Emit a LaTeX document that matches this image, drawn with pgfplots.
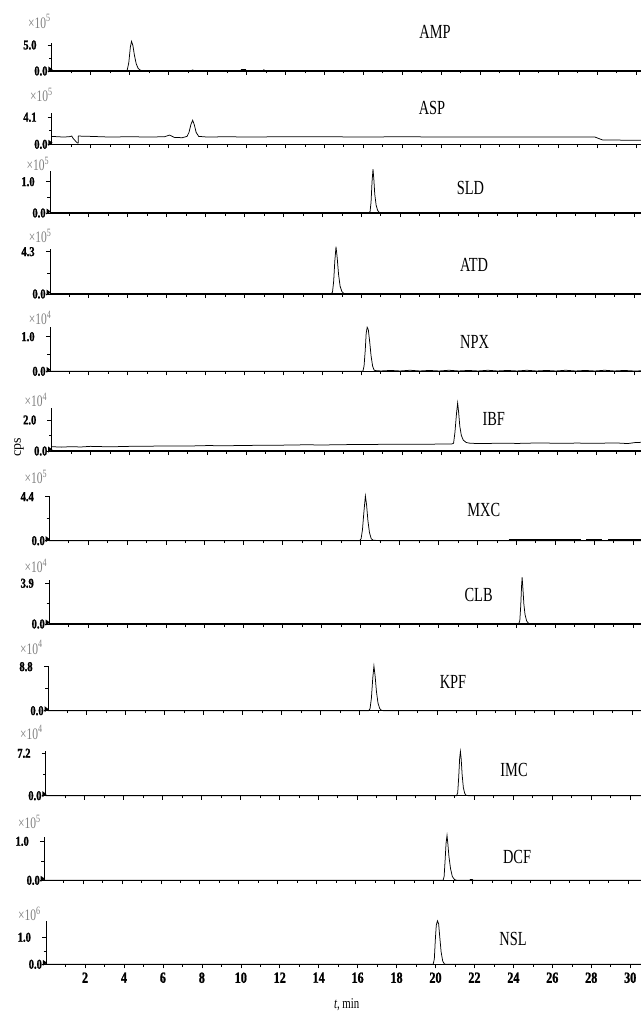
\documentclass[border=0pt]{standalone}
\usepackage{fontspec}
\setmainfont{Liberation Serif}[FakeStretch=0.72]
\newfontfamily\plainserif{Liberation Serif}
\newfontfamily\tickfont{Liberation Serif}[FakeStretch=0.78, FakeBold=1.2]
\usepackage{pgfplots}
\pgfplotsset{compat=1.18}
\tikzset{
 ylab/.style={font=\tickfont\bfseries\fontsize{13.5}{13.5}\selectfont, inner sep=0pt},
 mult/.style={font=\fontsize{16}{16}\selectfont, text=black!50, inner sep=0pt, anchor=west},
 pname/.style={font=\fontsize{20}{20}\selectfont, inner sep=0pt},
}
\pgfplotsset{
 panel/.style={
  anchor=south west, x=19.47pt, xmin=0, xmax=31, ymin=0, clip=false,
  axis lines=left, axis line style={-, black},
  x axis line style={line width=1.5pt}, y axis line style={line width=0.6pt},
  xtick={2,4,...,30}, minor xtick={1,3,...,31}, xticklabels={}, yticklabels={},
  tick align=outside, major tick length=4pt, minor tick length=2.5pt,
  tick style={black, line width=0.6pt},
  /pgf/number format/assume math mode=true,
 },
 trace/.style={black, line width=0.75pt, mark=none},
}
\newcommand{\ydeco}[2]{%
 \node[ylab,anchor=east,xshift=-15pt] at (axis cs:0,#1) {#2};
 \node[ylab,anchor=east,xshift=-4pt] at (axis cs:0,0) {0.0};
 \fill (axis cs:0,0) ++(-3.3pt,-1.5pt) -- ++(0,6pt) -- ++(4.2pt,-3pt) -- cycle;}
\begin{document}
\begin{tikzpicture}
% ---------- AMP
\begin{axis}[panel, at={(51.7pt,-71pt)}, y=5.2pt, ymax=5.44, ytick={0,5}, minor ytick={2.5}]
\addplot[trace] coordinates {(0,0)(3.80,0)(3.88,0.2)(3.96,1.6)(4.04,4.6)(4.10,5.7)(4.17,4.9)(4.25,3.0)(4.34,1.4)(4.44,0.5)(4.55,0.15)(4.70,0.05)(5.0,0)(7.1,0)(7.24,0.2)(7.35,0)(9.7,0)(9.75,0.3)(9.95,0.3)(10.0,0)(10.85,0)(10.9,0.25)(10.95,0)(31,0)};
\ydeco{5}{5.0}
\end{axis}
% ---------- ASP
\begin{axis}[panel, at={(51.7pt,-144.3pt)}, y=6.59pt, ymax=4.7, ytick={0,4.1}, minor ytick={2.05}]
\addplot[trace] coordinates {(0,1.2)(0.3,1.15)(0.6,1.1)(0.9,1.15)(1.03,1.25)(1.10,0.9)(1.25,0.4)(1.32,0.2)(1.36,0.2)(1.37,1.25)(2.0,1.2)(3.0,1.1)(4.0,1.15)(5.0,1.1)(5.8,1.15)(6.05,1.4)(6.3,1.05)(6.7,1.0)(6.95,1.2)(7.05,1.8)(7.15,3.0)(7.24,3.65)(7.32,3.0)(7.42,1.8)(7.55,1.2)(8.0,1.1)(9.0,1.15)(10.0,1.1)(12,1.15)(14,1.15)(16,1.1)(18,1.15)(20,1.1)(22,1.12)(24,1.1)(26,1.1)(27.9,1.1)(28.3,0.65)(31,0.6)};
\ydeco{4.1}{4.1}
\end{axis}
% ---------- SLD
\begin{axis}[panel, at={(49.8pt,-213pt)}, y=31.3pt, ymax=1.35, ytick={0,1}, minor ytick={0.5}]
\addplot[trace] coordinates {(0,0)(16.38,0)(16.45,0.05)(16.50,0.35)(16.55,1.0)(16.60,1.40)(16.64,1.1)(16.69,0.6)(16.76,0.25)(16.84,0.08)(16.95,0)(31,0)};
\ydeco{1}{1.0}
\end{axis}
% ---------- ATD
\begin{axis}[panel, at={(49.8pt,-294pt)}, y=9.84pt, ymax=4.54, ytick={0,4.3}, minor ytick={2.15}]
\addplot[trace] coordinates {(0,0)(14.45,0)(14.52,0.2)(14.58,1.3)(14.64,3.4)(14.70,4.8)(14.76,3.7)(14.83,2.0)(14.91,0.8)(15.0,0.25)(15.1,0.05)(15.2,0)(31,0)};
\ydeco{4.3}{4.3}
\end{axis}
% ---------- NPX
\begin{axis}[panel, at={(49.8pt,-371.3pt)}, y=34.6pt, ymax=1.29, ytick={0,1}, minor ytick={0.5}]
\addplot[trace] coordinates {(0,0)(16.08,0)(16.14,0.15)(16.20,0.6)(16.25,1.1)(16.30,1.27)(16.36,1.2)(16.43,0.85)(16.50,0.45)(16.58,0.15)(16.66,0.03)(16.75,0.02)(17.0,0.01)(17.5,0.025)(18.0,0.01)(18.5,0.03)(19.0,0.01)(19.5,0.025)(20.0,0.01)(20.5,0.03)(21.0,0.01)(21.5,0.025)(22.0,0.01)(22.5,0.03)(23.0,0.01)(23.5,0.025)(24.0,0.01)(24.5,0.03)(25.0,0.01)(25.5,0.025)(26.0,0.01)(26.5,0.03)(27.0,0.01)(27.5,0.025)(28.0,0.01)(28.5,0.03)(29.0,0.01)(29.5,0.025)(30.0,0.01)(31,0.02)};
\ydeco{1}{1.0}
\end{axis}
% ---------- IBF
\begin{axis}[panel, at={(51.5pt,-451pt)}, y=15.5pt, ymax=2.8, ytick={0,2}, minor ytick={1}]
\addplot[trace] coordinates {(0,0.28)(0.5,0.25)(1,0.28)(1.5,0.26)(2,0.3)(3,0.27)(4,0.3)(5,0.31)(6,0.33)(7,0.32)(8,0.35)(9,0.34)(10,0.36)(11,0.37)(12,0.38)(13,0.4)(14,0.39)(15,0.41)(16,0.42)(17,0.43)(18,0.44)(19,0.43)(20,0.45)(20.55,0.45)(20.65,0.5)(20.72,1.2)(20.80,2.4)(20.86,3.1)(20.91,2.5)(20.97,1.6)(21.05,1.0)(21.15,0.7)(21.3,0.55)(21.5,0.5)(22,0.48)(23,0.5)(24,0.49)(25,0.52)(26,0.5)(27,0.51)(28,0.5)(29,0.52)(29.6,0.48)(30,0.55)(31,0.58)};
\ydeco{2}{2.0}
\end{axis}
% ---------- MXC
\begin{axis}[panel, at={(49pt,-540.7pt)}, y=10pt, ymax=4.47, ytick={0,4.4}, minor ytick={2.2}]
\addplot[trace] coordinates {(0,0)(15.95,0)(16.03,0.2)(16.1,1.1)(16.17,2.8)(16.25,4.47)(16.31,3.6)(16.38,2.0)(16.46,0.8)(16.55,0.2)(16.65,0.05)(17,0)(31,0)};
\addplot[black, line width=1.3pt] coordinates {(23.6,0.1)(27.3,0.1)};
\addplot[black, line width=1.3pt] coordinates {(27.6,0.1)(28.4,0.1)};
\addplot[black, line width=1.3pt] coordinates {(28.7,0.1)(31,0.1)};
\ydeco{4.4}{4.4}
\end{axis}
% ---------- CLB
\begin{axis}[panel, at={(49pt,-624pt)}, y=10.44pt, ymax=4.2, ytick={0,3.9}, minor ytick={1.95}]
\addplot[trace] coordinates {(0,0)(24.12,0)(24.18,0.3)(24.23,1.8)(24.27,3.6)(24.30,4.47)(24.34,3.4)(24.39,1.9)(24.45,0.9)(24.53,0.3)(24.62,0.08)(24.7,0)(31,0)};
\ydeco{3.9}{3.9}
\end{axis}
% ---------- KPF
\begin{axis}[panel, at={(47.8pt,-710.7pt)}, y=5pt, ymax=8.94, ytick={0,8.8}, minor ytick={4.4}]
\addplot[trace] coordinates {(0,0)(16.48,0)(16.55,0.4)(16.62,2.5)(16.69,6.5)(16.75,8.94)(16.81,7.0)(16.88,3.8)(16.96,1.5)(17.05,0.4)(17.15,0.05)(17.25,0)(31,0)};
\ydeco{8.8}{8.8}
\end{axis}
% ---------- IMC
\begin{axis}[panel, at={(45.7pt,-795.7pt)}, y=5.89pt, ymax=7.64, ytick={0,7.2}, minor ytick={3.6}]
\addplot[trace] coordinates {(0,0)(21.1,0)(21.16,0.5)(21.21,3.0)(21.26,6.3)(21.30,7.5)(21.34,6.2)(21.39,3.5)(21.45,1.4)(21.52,0.4)(21.6,0.05)(21.7,0)(31,0)};
\ydeco{7.2}{7.2}
\end{axis}
% ---------- DCF
\begin{axis}[panel, at={(44pt,-880.3pt)}, y=39pt, ymax=1.11, ytick={0,1}, minor ytick={0.5}]
\addplot[trace] coordinates {(0,0)(20.5,0)(20.55,0.1)(20.6,0.5)(20.65,0.95)(20.70,1.15)(20.74,0.95)(20.8,0.6)(20.88,0.3)(20.97,0.1)(21.08,0.02)(21.2,0)(21.85,0)(21.9,0.02)(22.0,0.02)(22.05,0)(31,0)};
\ydeco{1}{1.0}
\end{axis}
% ---------- NSL
\begin{axis}[panel, at={(46.1pt,-964.3pt)}, y=27pt, ymax=1.61, ytick={0,1}, minor ytick={0.5},
  xticklabels={2,4,6,8,10,12,14,16,18,20,22,24,26,28,30},
  xticklabel style={font=\tickfont\bfseries\fontsize{15.5}{15.5}\selectfont, inner sep=0pt, yshift=-4pt}]
\addplot[trace] coordinates {(0,0)(19.88,0)(19.94,0.2)(19.99,0.9)(20.04,1.45)(20.10,1.61)(20.16,1.5)(20.22,1.0)(20.29,0.45)(20.37,0.12)(20.45,0.02)(20.5,0)(31,0)};
\ydeco{1}{1.0}
\end{axis}
% ---------- multipliers
\node[mult] at (28pt,-21.5pt) {×10\textsuperscript{5}};
\node[mult] at (30pt,-95pt) {×10\textsuperscript{5}};
\node[mult] at (26.5pt,-164pt) {×10\textsuperscript{5}};
\node[mult] at (28.6pt,-236pt) {×10\textsuperscript{5}};
\node[mult] at (28.6pt,-318pt) {×10\textsuperscript{4}};
\node[mult] at (24.5pt,-400pt) {×10\textsuperscript{4}};
\node[mult] at (24.5pt,-477pt) {×10\textsuperscript{5}};
\node[mult] at (24.5pt,-566pt) {×10\textsuperscript{4}};
\node[mult] at (20pt,-647.5pt) {×10\textsuperscript{4}};
\node[mult] at (20pt,-732.5pt) {×10\textsuperscript{4}};
\node[mult] at (18pt,-821.7pt) {×10\textsuperscript{5}};
\node[mult] at (18pt,-914pt) {×10\textsuperscript{6}};
% ---------- panel names
\node[pname] at (435pt,-31.7pt) {AMP};
\node[pname] at (432pt,-108pt) {ASP};
\node[pname] at (470.5pt,-188.3pt) {SLD};
\node[pname] at (474pt,-265pt) {ATD};
\node[pname] at (474.5pt,-341.7pt) {NPX};
\node[pname] at (493.7pt,-419pt) {IBF};
\node[pname] at (483.7pt,-510pt) {MXC};
\node[pname] at (478.6pt,-595pt) {CLB};
\node[pname] at (453pt,-681.7pt) {KPF};
\node[pname] at (514pt,-770pt) {IMC};
\node[pname] at (517pt,-856.7pt) {DCF};
\node[pname] at (513pt,-939.3pt) {NSL};
% ---------- axis titles
\node[rotate=90, inner sep=0pt, font=\plainserif\fontsize{14}{14}\selectfont] at (19pt,-447.5pt) {cps};
\node[inner sep=0pt, font=\fontsize{15}{15}\selectfont] at (346.7pt,-1005pt) {\textit{t}, min};
\pgfresetboundingbox
\useasboundingbox (0,0) rectangle (640pt,-1011pt);
\end{tikzpicture}
\end{document}
